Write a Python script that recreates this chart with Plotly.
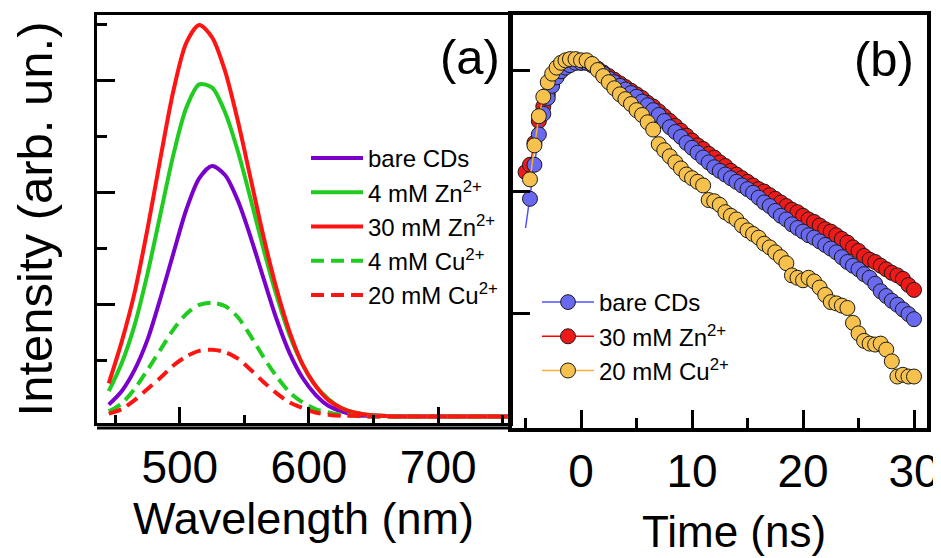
import plotly.graph_objects as go

# ---------------- Panel (a): emission spectra ----------------
WAVELENGTH_NM = [445, 455, 465, 475, 485, 495, 505, 515, 525, 535, 545, 555, 565, 575, 585, 595,
                 605, 615, 625, 635, 645, 655, 665, 675, 685, 695, 705, 715, 725, 735, 745, 755]

BARE_CDS = [0.11, 0.23, 0.42, 0.69, 1.06, 1.46, 1.85, 2.13, 2.24, 2.16, 1.93, 1.60, 1.23, 0.87, 0.57, 0.35,
            0.20, 0.10, 0.05, 0.02, 0.01, 0.01, 0.005, 0.005, 0.005, 0.005, 0.005, 0.005, 0.005, 0.005, 0.005, 0.005]
ZN_4MM = [0.23, 0.48, 0.82, 1.28, 1.81, 2.34, 2.76, 2.97, 2.94, 2.72, 2.37, 1.94, 1.49, 1.08, 0.73, 0.47,
          0.28, 0.16, 0.08, 0.04, 0.02, 0.01, 0.005, 0.005, 0.005, 0.005, 0.005, 0.005, 0.005, 0.005, 0.005, 0.005]
ZN_30MM = [0.30, 0.67, 1.11, 1.68, 2.31, 2.91, 3.34, 3.50, 3.39, 3.09, 2.64, 2.12, 1.60, 1.14, 0.76, 0.47,
           0.28, 0.15, 0.08, 0.04, 0.02, 0.01, 0.005, 0.005, 0.005, 0.005, 0.005, 0.005, 0.005, 0.005, 0.005, 0.005]
CU_4MM = [0.05, 0.12, 0.25, 0.42, 0.60, 0.78, 0.92, 1.00, 1.02, 0.99, 0.89, 0.72, 0.53, 0.36, 0.22, 0.13,
          0.07, 0.04, 0.02, 0.01, 0.005, 0.005, 0.005, 0.005, 0.005, 0.005, 0.005, 0.005, 0.005, 0.005, 0.005, 0.005]
CU_20MM = [0.03, 0.07, 0.15, 0.25, 0.35, 0.46, 0.54, 0.59, 0.60, 0.58, 0.52, 0.42, 0.31, 0.21, 0.13, 0.08,
           0.04, 0.02, 0.01, 0.01, 0.005, 0.005, 0.005, 0.005, 0.005, 0.005, 0.005, 0.005, 0.005, 0.005, 0.005, 0.005]

WL_TICKS = [500, 600, 700]
WL_TICK_LABELS = ["500", "600", "700"]
WL_MINOR = [450, 550, 650, 750]
INT_TICKS = [1, 2, 3]
INT_MINOR = [0.5, 1.5, 2.5, 3.5]

# ---------------- Panel (b): PL decay ----------------
TIME_NS = [-5.0, -4.6, -4.2, -3.8, -3.4, -3.0, -2.6, -2.2, -1.8, -1.4, -1.0, -0.5,
           0.0, 0.5, 1.0, 1.5, 2.0, 2.5, 3.0, 3.5, 4.0, 4.5, 5.0, 5.5, 6.0, 6.5, 7.0, 7.5,
           8.0, 8.5, 9.0, 9.5, 10.0, 10.5, 11.0, 11.5, 12.0, 12.5, 13.0, 13.5, 14.0, 14.5,
           15.0, 15.5, 16.0, 16.5, 17.0, 17.5, 18.0, 18.5, 19.0, 19.5, 20.0, 20.5, 21.0, 21.5,
           22.0, 22.5, 23.0, 23.5, 24.0, 24.5, 25.0, 25.5, 26.0, 26.5, 27.0, 27.5, 28.0, 28.5,
           29.0, 29.5, 30.0]

DECAY_BARE = [501, 871, 1660, 2951, 4365, 5888, 7413, 8710, 9772, 10470, 10960, 11480,
              11480, 11480, 10960, 10230, 9333, 8511, 7943, 7413, 6918, 6457, 6026, 5495, 5129, 4677, 4266, 3802,
              3388, 3090, 2818, 2512, 2291, 2089, 1905, 1738, 1585, 1479, 1380, 1288, 1202, 1122,
              1047, 977, 891, 813, 759, 692, 631, 589, 537, 501, 468, 437, 417, 389,
              363, 339, 316, 288, 263, 245, 229, 209, 195, 174, 151, 138, 126, 117,
              107, 98, 89]
DECAY_ZN30 = [1445, 1660, 2512, 3802, 5012, 6310, 7762, 8913, 10000, 10720, 11220, 11480,
              11480, 11480, 10960, 10230, 9550, 8913, 8318, 7762, 7244, 6761, 6310, 5888, 5370, 5012, 4571, 4169,
              3802, 3467, 3162, 2884, 2630, 2399, 2239, 2042, 1905, 1738, 1622, 1479, 1380, 1288,
              1202, 1122, 1047, 1000, 933, 871, 813, 759, 708, 676, 631, 589, 562, 525,
              490, 468, 437, 407, 380, 347, 324, 295, 275, 263, 245, 229, 214, 204,
              191, 170, 155]
DECAY_CU20 = [None, 1259, 2399, 4169, 6026, 7943, 9333, 10470, 11480, 12020, 12300, 12300,
              12020, 12020, 11220, 10000, 8913, 7943, 7079, 6310, 5754, 5248, 4677, 4266, 3715, 3236, 2455, 2188,
              1950, 1738, 1549, 1380, 1288, 1202, 1122, 851, 832, 776, 676, 631, 589, 525,
              479, 447, 417, 372, 347, 316, 288, 257, 204, 195, 186, 195, 182, 162,
              141, 123, 120, 115, 110, 83, 68, 59, 56, 55, 56, 50, 40, 30,
              31, 30, 30]

T_TICKS = [0, 10, 20, 30]
T_TICK_LABELS = ["0", "10", "20", "30"]
T_MINOR = [-5, 5, 15, 25]
COUNT_TICKS = [100, 1000, 10000]

FONT = "Liberation Sans, Arial, Helvetica, sans-serif"
# the page body keeps an 8 px margin, so the figure is sized to end at the window edge
OFF = 8
W, H = 941 - OFF, 558 - OFF

fig = go.Figure()

spectra = [
    ("bare CDs", BARE_CDS, "#7A00CC", "solid"),
    ("4 mM Zn<sup>2+</sup>", ZN_4MM, "#1FCC1F", "solid"),
    ("30 mM Zn<sup>2+</sup>", ZN_30MM, "#FF1414", "solid"),
    ("4 mM Cu<sup>2+</sup>", CU_4MM, "#1FCC1F", "13px,7px"),
    ("20 mM Cu<sup>2+</sup>", CU_20MM, "#FF1414", "13px,7px"),
]
for name, vals, col, dash in spectra:
    fig.add_trace(go.Scatter(
        x=WAVELENGTH_NM, y=vals, name=name, mode="lines",
        line=dict(color=col, width=4, dash=dash, shape="spline", smoothing=0.8),
        xaxis="x", yaxis="y", legend="legend"))

decays = [
    ("30 mM Zn<sup>2+</sup>", DECAY_ZN30, "#EE1A1A", "#FF0000", 2),
    ("bare CDs", DECAY_BARE, "#6A6AF0", "#5050FF", 1),
    ("20 mM Cu<sup>2+</sup>", DECAY_CU20, "#F6C14C", "#F5B030", 3),
]
for name, vals, mcol, lcol, rank in decays:
    sizes = [15] * len(vals)
    if name == "bare CDs":
        sizes[0] = 0
    fig.add_trace(go.Scatter(
        x=TIME_NS, y=vals, name=name, mode="lines+markers",
        line=dict(color=lcol, width=1.5),
        marker=dict(color=mcol, size=sizes, opacity=1, line=dict(color="#1a1a1a", width=1)),
        xaxis="x2", yaxis="y2", legend="legend2", legendrank=rank))

axis_common = dict(showgrid=False, zeroline=False, showline=True, linecolor="black",
                   mirror=True, ticks="inside", tickcolor="black", tickwidth=3,
                   automargin=False)


def px_x(p):
    return (p - OFF) / W


def px_y(p):
    return 1 - (p - OFF) / H


fig.update_layout(
    width=W, height=H,
    margin=dict(l=0, r=0, t=0, b=0),
    paper_bgcolor="white", plot_bgcolor="white",
    font=dict(family=FONT, color="black"),
    xaxis=dict(axis_common, domain=[px_x(97), px_x(510)], range=[435.9, 755.6], anchor="y",
               linewidth=3, tickvals=WL_TICKS, ticktext=WL_TICK_LABELS, ticklen=16,
               minor=dict(tickvals=WL_MINOR, ticklen=8, tickwidth=3, ticks="inside", tickcolor="black"),
               tickfont=dict(size=46, family=FONT), ticklabelstandoff=2,
               title=dict(text="Wavelength (nm)", font=dict(size=45, family=FONT), standoff=5)),
    yaxis=dict(axis_common, domain=[px_y(423), px_y(15)], range=[-0.054, 3.589], anchor="x",
               linewidth=3, tickvals=INT_TICKS, showticklabels=False, ticklen=18,
               minor=dict(tickvals=INT_MINOR, ticklen=10, tickwidth=3, ticks="inside", tickcolor="black"),
               title=dict(text="Intensity (arb. un.)", font=dict(size=49, family=FONT), standoff=53)),
    xaxis2=dict(axis_common, domain=[px_x(512), px_x(927)], range=[-6.22, 31.17], anchor="y2",
                linewidth=4, tickvals=T_TICKS, ticktext=T_TICK_LABELS, ticklen=18,
                minor=dict(tickvals=T_MINOR, ticklen=10, tickwidth=3, ticks="inside", tickcolor="black"),
                tickfont=dict(size=46, family=FONT), ticklabelstandoff=0),
    yaxis2=dict(axis_common, type="log", domain=[px_y(428), px_y(15)], range=[1.0535, 4.453],
                anchor="x2", linewidth=4, tickvals=COUNT_TICKS, showticklabels=False, ticklen=18),
    legend=dict(x=px_x(306), y=px_y(136), xanchor="left", yanchor="top",
                bgcolor="rgba(0,0,0,0)", font=dict(size=24, family=FONT),
                itemwidth=52, tracegroupgap=0),
    legend2=dict(x=px_x(537), y=px_y(280), xanchor="left", yanchor="top",
                 bgcolor="rgba(0,0,0,0)", font=dict(size=24, family=FONT),
                 itemwidth=52, traceorder="normal"),
    annotations=[
        dict(text="(a)", x=px_x(470), y=px_y(57), xref="paper", yref="paper",
             showarrow=False, font=dict(size=49, family=FONT), xanchor="center", yanchor="middle"),
        dict(text="(b)", x=px_x(884), y=px_y(59), xref="paper", yref="paper",
             showarrow=False, font=dict(size=49, family=FONT), xanchor="center", yanchor="middle"),
        dict(text="Time (ns)", x=px_x(734), y=px_y(531), xref="paper", yref="paper",
             showarrow=False, font=dict(size=44, family=FONT), xanchor="center", yanchor="middle"),
    ],
    shapes=[
        dict(type="line", xref="paper", yref="paper", x0=px_x(97), x1=px_x(510),
             y0=px_y(428), y1=px_y(428), line=dict(color="black", width=3)),
    ],
)

fig.write_html("out.html")
